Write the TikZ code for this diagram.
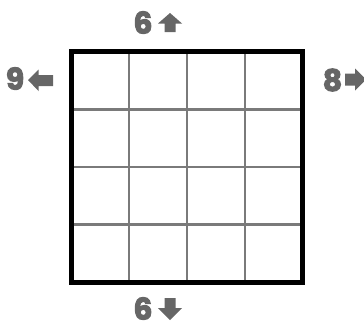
\documentclass[tikz,border=0pt]{standalone}
\usepackage{fontspec}
\newfontfamily\labfont{Poppins}[BoldFeatures={FakeBold=3.2}]
\definecolor{labgray}{HTML}{666666}
\definecolor{linegray}{HTML}{7A7A7A}
\begin{document}
\begin{tikzpicture}[x=1pt,y=1pt,
  digit/.style={text=labgray,font=\labfont\fontsize{30}{30}\selectfont\bfseries,inner sep=0pt,anchor=center},
  blockarrow/.style={fill=labgray,draw=none},
  thin grid/.style={draw=linegray,line width=2.4pt},
  frame/.style={draw=black,line width=4.6pt}]
\useasboundingbox (0,0) rectangle (364,-324);
\clip (0,0) rectangle (364,-324);
% grid
\coordinate (tl) at (71.5,-51.7);
\coordinate (br) at (302.5,-282.3);
\foreach \i in {1,2,3}{
  \draw[thin grid] (71.5+57.75*\i,-51.7) -- (71.5+57.75*\i,-282.3);
  \draw[thin grid] (71.5,-51.7-57.65*\i) -- (302.5,-51.7-57.65*\i);
}
\draw[frame] (tl) rectangle (br);
% labels
\node[digit] (top) at (143,-22.5) {6};
\node[digit] (left) at (15,-78.5) {9};
\node[digit] (right) at (332.5,-80) {8};
\node[digit] (bottom) at (143,-308.5) {6};
% up arrow
\fill[blockarrow] (170,-13) -- (182,-23.5) -- (175.5,-23.5) -- (175.5,-32) -- (164.5,-32) -- (164.5,-23.5) -- (158,-23.5) -- cycle;
% left arrow
\fill[blockarrow] (28,-80) -- (38.5,-69.5) -- (38.5,-75) -- (53,-75) -- (53,-86) -- (38.5,-86) -- (38.5,-91) -- cycle;
% right arrow
\fill[blockarrow] (345,-73.5) -- (355,-73.5) -- (355,-68.5) -- (366,-79.5) -- (355,-90.5) -- (355,-85.5) -- (345,-85.5) -- cycle;
% down arrow
\fill[blockarrow] (164.5,-298) -- (175.5,-298) -- (175.5,-308) -- (182,-308) -- (170,-320) -- (158,-308) -- (164.5,-308) -- cycle;
\end{tikzpicture}
\end{document}
